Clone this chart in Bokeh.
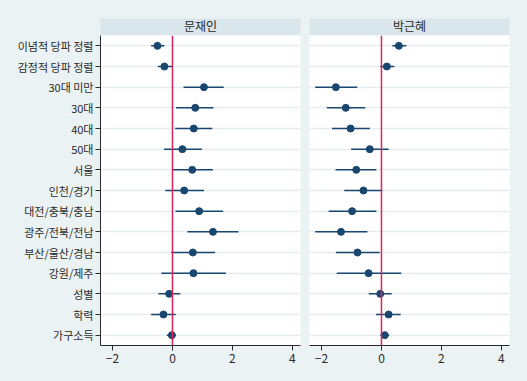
from bokeh.plotting import figure
from bokeh.models import Range1d, FactorRange, FixedTicker, Span, Label, ColumnDataSource
from bokeh.layouts import row, column
from bokeh.embed import file_html
from bokeh.resources import INLINE

labels = ["이념적 당파 정렬", "감정적 당파 정렬", "30대 미만", "30대", "40대", "50대", "서울",
          "인천/경기", "대전/충북/충남", "광주/전북/전남", "부산/울산/경남", "강원/제주",
          "성별", "학력", "가구소득"]
moon_est = [-0.50, -0.27, 1.05, 0.76, 0.71, 0.33, 0.66, 0.39, 0.89, 1.35, 0.68, 0.70, -0.11, -0.30, -0.02]
moon_lo = [-0.71, -0.49, 0.37, 0.12, 0.09, -0.28, -0.01, -0.24, 0.10, 0.50, -0.04, -0.37, -0.47, -0.71, -0.19]
moon_hi = [-0.27, 0.01, 1.71, 1.37, 1.33, 0.98, 1.35, 1.05, 1.69, 2.20, 1.42, 1.78, 0.26, 0.11, 0.11]
park_est = [0.58, 0.18, -1.52, -1.19, -1.03, -0.39, -0.84, -0.60, -0.98, -1.35, -0.80, -0.43, -0.04, 0.24, 0.11]
park_lo = [0.36, -0.04, -2.21, -1.82, -1.65, -1.01, -1.53, -1.24, -1.76, -2.21, -1.52, -1.49, -0.42, -0.18, -0.04]
park_hi = [0.83, 0.43, -0.81, -0.54, -0.39, 0.24, -0.17, 0.03, -0.17, -0.47, -0.06, 0.66, 0.34, 0.64, 0.26]
panels = ["문재인", "박근혜"]
x_ticks = [-2, 0, 2, 4]

BG = "#eaf2f3"
HEAD = "#d9e6eb"
NAVY = "#1a476f"
RED = "#e0245a"
TXT = "#2a2a2a"
FONT = "Noto Sans CJK KR"

y_range = FactorRange(factors=list(reversed(labels)))


def make_panel(title, est, lo, hi, show_y, left, right):
    hdr = figure(width=left + 200 + right, height=35, x_range=Range1d(0, 1), y_range=Range1d(0, 1),
                 output_backend="svg", toolbar_location=None, x_axis_location=None,
                 y_axis_location=None, min_border_left=left, min_border_right=right,
                 min_border_top=18, min_border_bottom=0, title_location=None)
    hdr.background_fill_color = HEAD
    hdr.border_fill_color = BG
    hdr.outline_line_color = None
    hdr.grid.visible = False
    hdr.add_layout(Label(x=0.5, y=0.58, text=title, text_align="center", text_baseline="middle",
                         text_font=FONT, text_font_size="12px", text_color=TXT))

    p = figure(width=left + 200 + right, height=346, x_range=Range1d(-2.4, 4.27), y_range=y_range,
               output_backend="svg", toolbar_location=None, min_border_left=left,
               min_border_right=right, min_border_top=0, min_border_bottom=36, title_location=None)
    p.background_fill_color = "white"
    p.border_fill_color = BG
    p.outline_line_color = None
    p.xgrid.visible = False
    p.ygrid.grid_line_color = "#e4ecee"
    p.ygrid.grid_line_width = 1.5

    src = ColumnDataSource(dict(y=labels, est=est, lo=lo, hi=hi))
    p.add_layout(Span(location=0, dimension="height", line_color=RED, line_width=1.5))
    p.segment(x0="lo", y0="y", x1="hi", y1="y", source=src, line_color=NAVY, line_width=1.5)
    p.scatter(x="est", y="y", source=src, size=7, fill_color=NAVY, line_color=NAVY)

    p.xaxis.ticker = FixedTicker(ticks=x_ticks)
    p.xaxis.axis_line_color = TXT
    p.xaxis.major_tick_line_color = TXT
    p.xaxis.major_tick_out = 5
    p.xaxis.major_tick_in = 0
    p.xaxis.minor_tick_line_color = None
    p.xaxis.major_label_text_font = FONT
    p.xaxis.major_label_text_font_size = "12px"
    p.xaxis.major_label_text_color = TXT
    p.xaxis.major_label_standoff = 3

    if show_y:
        p.yaxis.axis_line_color = TXT
        p.yaxis.major_tick_line_color = TXT
        p.yaxis.major_tick_out = 5
        p.yaxis.major_tick_in = 0
        p.yaxis.major_label_text_font = FONT
        p.yaxis.major_label_text_font_size = "11px"
        p.yaxis.major_label_text_color = TXT
        p.yaxis.major_label_standoff = 2
    else:
        p.yaxis.visible = False
    return column(hdr, p, spacing=0)


c1 = make_panel(panels[0], moon_est, moon_lo, moon_hi, True, 100, 4)
c2 = make_panel(panels[1], park_est, park_lo, park_hi, False, 5, 18)
layout = row(c1, c2, spacing=0)

html = file_html(layout, INLINE)
html = html.replace("<head>", "<head><style>html,body{background:#eaf2f3;}</style>", 1)
open("out.html", "w").write(html)
